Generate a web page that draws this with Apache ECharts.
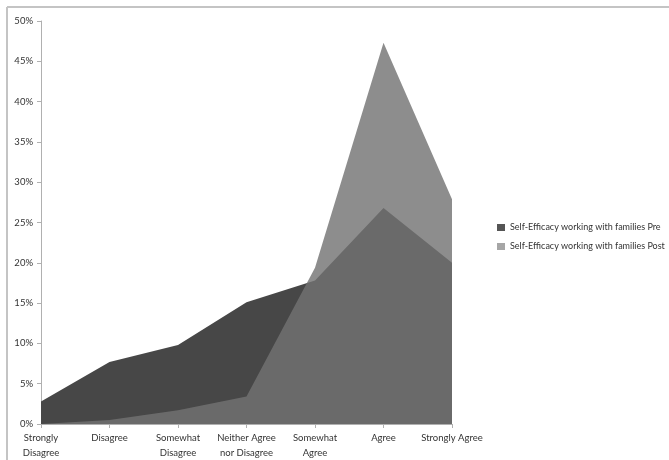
<!DOCTYPE html>
<html><head><meta charset="utf-8">
<script src="https://cdn.jsdelivr.net/npm/echarts@6/dist/echarts.min.js"></script>
<style>html,body{margin:0;padding:0;background:#fff}#c{width:669px;height:460px}</style>
</head><body><div id="c"></div>
<script>
var categories = ['Strongly\nDisagree','Disagree','Somewhat\nDisagree','Neither Agree\nnor Disagree','Somewhat\nAgree','Agree','Strongly Agree'];
var preValues = [2.8, 7.7, 9.8, 15.1, 17.8, 26.8, 20.0];
var postValues = [0, 0.5, 1.7, 3.4, 19.4, 47.3, 27.9];
var seriesNames = ['Self-Efficacy working with families Pre','Self-Efficacy working with families Post'];
var yTicks = [0, 50, 5];

var chart = echarts.init(document.getElementById('c'), null, {renderer:'canvas'});
var font = "Lato, 'Noto Sans', sans-serif";
chart.setOption({
  animation:false,
  backgroundColor:'#fff',
  graphic:[
    {type:'line', shape:{x1:7,y1:7,x2:669,y2:7}, style:{stroke:'#c4c4c4', lineWidth:2}, silent:true},
    {type:'line', shape:{x1:7,y1:7,x2:7,y2:460}, style:{stroke:'#c4c4c4', lineWidth:2}, silent:true}
  ],
  grid:{left:41, right:217, top:21, bottom:33, containLabel:false},
  legend:{
    orient:'vertical', left:497, top:223, padding:0, itemWidth:8, itemHeight:7, itemGap:10,
    icon:'rect', selectedMode:false,
    textStyle:{fontFamily:font, fontSize:9, color:'#333'},
    data:[
      {name:seriesNames[0], itemStyle:{color:'#555555'}},
      {name:seriesNames[1], itemStyle:{color:'#a6a6a6'}}
    ]
  },
  xAxis:{
    type:'category', data:categories, boundaryGap:false,
    axisLine:{lineStyle:{color:'#b0b0b0', width:1}},
    axisTick:{show:true, alignWithLabel:true, length:4, lineStyle:{color:'#b0b0b0'}},
    axisLabel:{fontFamily:font, fontSize:9.5, color:'#333', lineHeight:15, margin:6, interval:0},
    splitLine:{show:false}
  },
  yAxis:{
    type:'value', min:yTicks[0], max:yTicks[1], interval:yTicks[2],
    axisLine:{show:true, lineStyle:{color:'#b0b0b0', width:1}},
    axisTick:{show:true, length:4, lineStyle:{color:'#b0b0b0'}},
    axisLabel:{fontFamily:font, fontSize:9.5, color:'#333', formatter:'{value}%', margin:8},
    splitLine:{show:false}
  },
  series:[
    {name:seriesNames[0], type:'line', data:preValues, showSymbol:false, symbol:'none',
     itemStyle:{color:'#474747'}, lineStyle:{width:0},
     areaStyle:{color:'#474747', opacity:1}, z:2},
    {name:seriesNames[1], type:'line', data:postValues, showSymbol:false, symbol:'none',
     itemStyle:{color:'#a6a6a6'}, lineStyle:{width:0},
     areaStyle:{color:'rgb(115,115,115)', opacity:0.81}, z:3}
  ]
});
</script></body></html>
